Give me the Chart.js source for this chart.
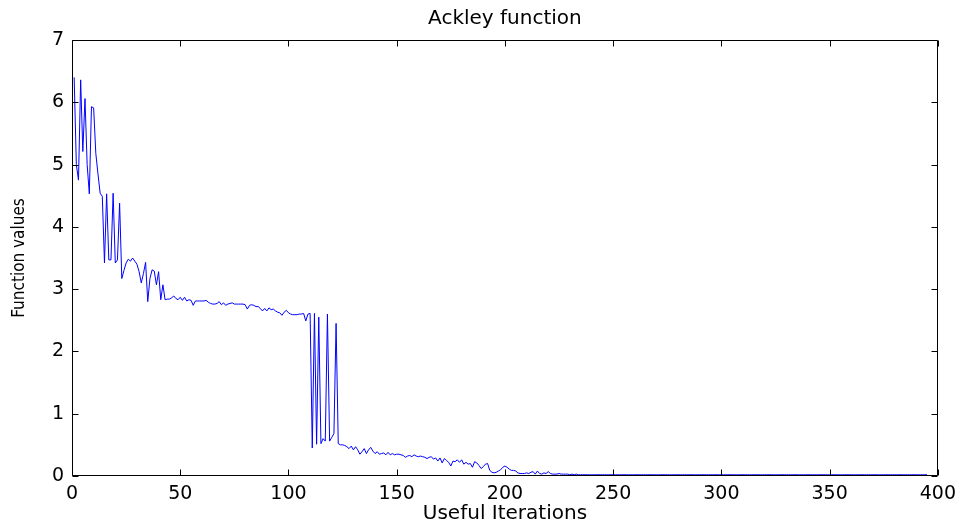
<!DOCTYPE html>
<html>
<head>
<meta charset="utf-8">
<script src="https://cdn.jsdelivr.net/npm/chart.js@4.4.1/dist/chart.umd.min.js"></script>
<style>
  html, body { margin: 0; padding: 0; background: #ffffff; }
  #wrap { width: 963px; height: 522px; }
</style>
</head>
<body>
<div id="wrap"><canvas id="c" width="963" height="522"></canvas></div>
<script>
// ---- Data (function value per useful iteration) ----
const chartTitle = 'Ackley function';
const xTitle = 'Useful Iterations';
const yTitle = 'Function values';
const xTicks = [0, 50, 100, 150, 200, 250, 300, 350, 400];
const yTicks = [0, 1, 2, 3, 4, 5, 6, 7];

// iterations 1-48
const phaseStart = [6.40, 5.00, 4.75, 6.36, 5.21, 6.06, 5.00, 4.53, 5.93, 5.91,
  5.18, 4.85, 4.54, 4.49, 3.42, 4.53, 3.47, 3.47, 4.54, 3.42,
  3.47, 4.38, 3.17, 3.30, 3.42, 3.48, 3.45, 3.50, 3.45, 3.40,
  3.28, 3.10, 3.25, 3.43, 2.80, 3.17, 3.31, 3.29, 3.07, 3.28,
  2.83, 3.07, 2.83, 2.84, 2.84, 2.86, 2.89, 2.85];
// iterations 49-110
const phasePlateau = [2.83, 2.87, 2.82, 2.87, 2.81, 2.83, 2.82, 2.74, 2.81, 2.81,
  2.81, 2.81, 2.81, 2.82, 2.79, 2.77, 2.76, 2.76, 2.77, 2.80,
  2.75, 2.78, 2.74, 2.76, 2.77, 2.78, 2.76, 2.76, 2.76, 2.76,
  2.76, 2.75, 2.68, 2.74, 2.75, 2.74, 2.72, 2.72, 2.69, 2.65,
  2.69, 2.65, 2.70, 2.67, 2.68, 2.65, 2.63, 2.62, 2.58, 2.63,
  2.66, 2.62, 2.60, 2.59, 2.59, 2.59, 2.60, 2.60, 2.61, 2.49,
  2.60, 2.61];
// iterations 111-124
const phaseJump = [0.45, 2.61, 0.51, 2.55, 0.52, 0.60, 0.56, 2.60, 0.56, 0.62,
  0.68, 2.45, 0.52, 0.50];
// iterations 125-235
const phaseDecay = [0.50, 0.49, 0.47, 0.44, 0.48, 0.42, 0.47, 0.42, 0.35, 0.39,
  0.44, 0.36, 0.42, 0.46, 0.40, 0.36, 0.39, 0.35, 0.36, 0.37,
  0.34, 0.38, 0.34, 0.36, 0.34, 0.35, 0.35, 0.34, 0.33, 0.30,
  0.32, 0.33, 0.31, 0.34, 0.32, 0.31, 0.32, 0.31, 0.30, 0.28,
  0.30, 0.31, 0.27, 0.29, 0.24, 0.29, 0.21, 0.28, 0.25, 0.22,
  0.16, 0.24, 0.23, 0.26, 0.22, 0.26, 0.19, 0.22, 0.19, 0.20,
  0.14, 0.23, 0.21, 0.17, 0.12, 0.15, 0.19, 0.20, 0.09, 0.06,
  0.05, 0.06, 0.08, 0.10, 0.14, 0.16, 0.14, 0.11, 0.09, 0.09,
  0.08, 0.05, 0.04, 0.04, 0.04, 0.05, 0.04, 0.06, 0.07, 0.03,
  0.08, 0.04, 0.03, 0.05, 0.04, 0.07, 0.04, 0.03, 0.03, 0.03,
  0.04, 0.03, 0.03, 0.03, 0.03, 0.02, 0.03, 0.02, 0.03, 0.02,
  0.02];
// iterations 236-395
const phaseTail = [
  0.02, 0.02, 0.02, 0.02, 0.02, 0.02, 0.02, 0.02, 0.02, 0.02,
  0.02, 0.02, 0.02, 0.02, 0.02, 0.02, 0.02, 0.02, 0.02, 0.02,
  0.02, 0.02, 0.02, 0.02, 0.02, 0.02, 0.02, 0.02, 0.02, 0.02,
  0.02, 0.02, 0.02, 0.02, 0.02, 0.02, 0.02, 0.02, 0.02, 0.02,
  0.02, 0.02, 0.02, 0.02, 0.02, 0.02, 0.02, 0.02, 0.02, 0.02,
  0.02, 0.02, 0.02, 0.02, 0.02, 0.02, 0.02, 0.02, 0.02, 0.02,
  0.02, 0.02, 0.02, 0.02, 0.02, 0.02, 0.02, 0.02, 0.02, 0.02,
  0.02, 0.02, 0.02, 0.02, 0.02, 0.02, 0.02, 0.02, 0.02, 0.02,
  0.02, 0.02, 0.02, 0.02, 0.02, 0.02, 0.02, 0.02, 0.02, 0.02,
  0.02, 0.02, 0.02, 0.02, 0.02, 0.02, 0.02, 0.02, 0.02, 0.02,
  0.02, 0.02, 0.02, 0.02, 0.02, 0.02, 0.02, 0.02, 0.02, 0.02,
  0.02, 0.02, 0.02, 0.02, 0.02, 0.02, 0.02, 0.02, 0.02, 0.02,
  0.02, 0.02, 0.02, 0.02, 0.02, 0.02, 0.02, 0.02, 0.02, 0.02,
  0.02, 0.02, 0.02, 0.02, 0.02, 0.02, 0.02, 0.02, 0.02, 0.02,
  0.02, 0.02, 0.02, 0.02, 0.02, 0.02, 0.02, 0.02, 0.02, 0.02,
  0.02, 0.02, 0.02, 0.02, 0.02, 0.02, 0.02, 0.02, 0.02, 0.02];

const firstIteration = 1;
const functionValues = [...phaseStart, ...phasePlateau, ...phaseJump, ...phaseDecay, ...phaseTail];
const points = functionValues.map((v, i) => ({ x: firstIteration + i, y: v }));

// ---- MATLAB-style box with inward ticks on all four sides ----
const boxPlugin = {
  id: 'matlabBox',
  afterDraw(chart) {
    const { ctx, chartArea: a, scales: { x, y } } = chart;
    const L = Math.round(a.left) + 0.5, R = Math.round(a.right) - 0.5;
    const T = Math.round(a.top) + 0.5, B = Math.round(a.bottom) - 0.5;
    const tl = 6;
    ctx.save();
    ctx.strokeStyle = '#000';
    ctx.lineWidth = 1;
    ctx.beginPath();
    ctx.rect(L, T, R - L, B - T);
    x.ticks.forEach(t => {
      const px = Math.round(x.getPixelForValue(t.value)) + 0.5;
      ctx.moveTo(px, B); ctx.lineTo(px, B - tl);
      ctx.moveTo(px, T); ctx.lineTo(px, T + tl);
    });
    y.ticks.forEach(t => {
      const py = Math.round(y.getPixelForValue(t.value)) + 0.5;
      ctx.moveTo(L, py); ctx.lineTo(L + tl, py);
      ctx.moveTo(R, py); ctx.lineTo(R - tl, py);
    });
    ctx.stroke();
    ctx.restore();
  }
};

const tickFont = { family: 'DejaVu Sans', size: 19, weight: 'normal' };

new Chart(document.getElementById('c'), {
  type: 'line',
  data: {
    datasets: [{
      data: points,
      borderColor: '#0000FF',
      borderWidth: 1,
      pointRadius: 0,
      tension: 0,
      fill: false
    }]
  },
  options: {
    responsive: false,
    animation: false,
    layout: { padding: { top: 0, right: 21, bottom: 0, left: 0 } },
    plugins: {
      legend: { display: false },
      tooltip: { enabled: false },
      title: {
        display: true,
        text: chartTitle,
        fullSize: false,
        color: '#000',
        font: { family: 'DejaVu Sans', size: 20, weight: 'normal', lineHeight: 1 },
        padding: { top: 9, bottom: 11 }
      }
    },
    scales: {
      x: {
        type: 'linear',
        min: 0, max: 400,
        afterBuildTicks(s) { s.ticks = xTicks.map(v => ({ value: v })); },
        ticks: { color: '#000', font: tickFont, padding: 7, maxRotation: 0, autoSkip: false },
        grid: { display: false, drawTicks: false },
        border: { display: false },
        title: {
          display: true, text: xTitle, color: '#000',
          font: { family: 'DejaVu Sans', size: 20, weight: 'normal', lineHeight: 0.8 },
          padding: { top: 0, bottom: 0 }
        },
        afterFit(s) { s.height = 46; }
      },
      y: {
        type: 'linear',
        min: 0, max: 7,
        afterBuildTicks(s) { s.ticks = yTicks.map(v => ({ value: v })); },
        ticks: { color: '#000', font: tickFont, padding: 8, autoSkip: false },
        grid: { display: false, drawTicks: false },
        border: { display: false },
        title: {
          display: true, text: yTitle, color: '#000',
          font: { family: "'Liberation Sans Narrow', 'DejaVu Sans Condensed', sans-serif", size: 17, weight: 'normal', lineHeight: 1 },
          padding: { top: 11, bottom: 0 }
        },
        afterFit(s) { s.width = 72; }
      }
    }
  },
  plugins: [boxPlugin]
});
</script>
</body>
</html>
